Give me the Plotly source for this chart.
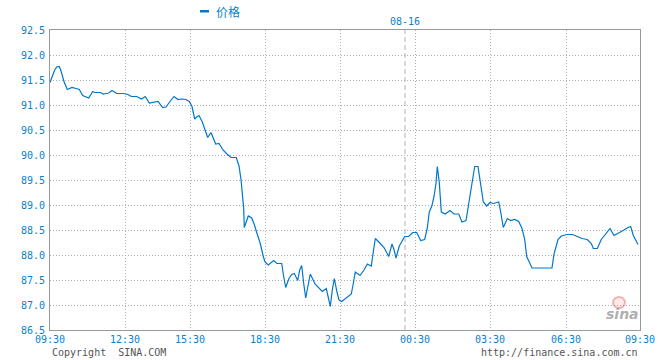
import plotly.graph_objects as go

# x positions are time-slot indices along the session (0 = 09:30, 590 = 09:30 next day)
slot = [0, 4.7, 6.7, 9.3, 10.7, 14, 17.3, 19.3, 22, 26, 29.3, 32.7, 36, 38.7, 42.7, 44.7,
        50.7, 53.3, 56, 58.7, 62, 66.7, 73.3, 78, 81.3, 86.7, 91.3, 95.3, 99.3, 104, 108,
        112.7, 116, 120, 124, 128, 131.3, 136, 139.3, 142, 144.7, 146.7, 149, 152.3, 155,
        157.7, 161, 163, 165.7, 169, 173, 177, 181, 186.3, 189, 191, 192.3, 193.7, 194.3,
        195.7, 198.3, 201.7, 204.3, 207, 210.3, 213, 215, 218.3, 223.7, 227, 231.7, 233.7,
        235.7, 239, 241.7, 244.3, 247.7, 249.7, 251.7, 253.7, 255.7, 257.7, 260.3, 265,
        272.3, 276.3, 278.3, 280.3, 282.3, 284.3, 287, 289, 291.7, 295, 296.7, 301.3, 303.3,
        305.3, 310, 314, 317.3, 321.3, 322.7, 325.3, 329.3, 334, 338.7, 342, 344, 346,
        349.3, 354.7, 358.7, 362.7, 366.7, 370.7, 374.7, 377.3, 379.3, 382, 384, 386, 387.3,
        389.3, 391.3, 395.3, 400, 404, 408.7, 412, 416, 418.7, 422, 424.7, 428, 431.3, 433.3,
        436.7, 440, 443.3, 448.7, 450.7, 453.3, 457.3, 460.7, 464.7, 468.7, 472, 474.7,
        476.7, 482, 502, 504, 508, 511.3, 516.7, 522.7, 527.3, 532, 537.3, 541.3, 543.3,
        547.3, 551.3, 555.3, 560, 564, 568.7, 574, 578, 580.7, 583.3, 588]
price = [91.45, 91.70, 91.76, 91.77, 91.70, 91.47, 91.31, 91.33, 91.35, 91.33, 91.31, 91.19,
         91.16, 91.14, 91.27, 91.25, 91.25, 91.22, 91.23, 91.24, 91.29, 91.23, 91.23, 91.21,
         91.17, 91.17, 91.12, 91.17, 91.04, 91.06, 91.07, 90.95, 90.96, 91.07, 91.17, 91.11,
         91.12, 91.11, 91.07, 90.97, 90.72, 90.76, 90.79, 90.66, 90.50, 90.35, 90.45, 90.34,
         90.22, 90.23, 90.10, 90.02, 89.95, 89.95, 89.78, 89.51, 89.23, 88.93, 88.55, 88.63,
         88.78, 88.74, 88.61, 88.43, 88.23, 87.99, 87.86, 87.80, 87.89, 87.83, 87.83, 87.57,
         87.35, 87.53, 87.61, 87.63, 87.49, 87.70, 87.79, 87.43, 87.14, 87.35, 87.62, 87.42,
         87.27, 87.33, 87.14, 86.97, 87.30, 87.53, 87.26, 87.10, 87.07, 87.12, 87.15, 87.22,
         87.43, 87.66, 87.59, 87.70, 87.82, 87.78, 87.98, 88.33, 88.25, 88.15, 87.97, 88.22,
         88.11, 87.94, 88.18, 88.37, 88.37, 88.45, 88.45, 88.29, 88.31, 88.54, 88.86, 88.99,
         89.17, 89.43, 89.77, 89.45, 88.86, 88.82, 88.89, 88.82, 88.82, 88.66, 88.69, 89.03,
         89.50, 89.77, 89.77, 89.31, 89.06, 88.98, 89.05, 89.03, 89.06, 88.86, 88.55, 88.73,
         88.69, 88.71, 88.67, 88.53, 88.31, 87.97, 87.74, 87.74, 88.02, 88.31, 88.38, 88.41,
         88.41, 88.37, 88.33, 88.31, 88.23, 88.13, 88.13, 88.31, 88.41, 88.53, 88.39, 88.45,
         88.50, 88.55, 88.57, 88.39, 88.21]

tick_pos = [0, 75, 140, 215, 290, 365, 440, 516, 590]
tick_text = ["09:30", "12:30", "15:30", "18:30", "21:30", "00:30", "03:30", "06:30", "09:30"]
y_ticks = [86.5, 87.0, 87.5, 88.0, 88.5, 89.0, 89.5, 90.0, 90.5, 91.0, 91.5, 92.0, 92.5]
day_pos = 355
day_label = "08-16"
series_name = "价格"

BLUE = "#0a7fd0"
LINE = "#0077cc"
MONO = "DejaVu Sans Mono"

fig = go.Figure()
fig.add_trace(go.Scatter(x=slot, y=price, mode="lines", name=series_name,
                         line=dict(color=LINE, width=1.2), showlegend=False))

fig.update_layout(
    width=660, height=360,
    margin=dict(l=50, r=20, t=30, b=30, autoexpand=False),
    paper_bgcolor="white", plot_bgcolor="white",
    xaxis=dict(range=[0, 590], tickvals=tick_pos, ticktext=tick_text, automargin=False,
               showgrid=True, gridcolor="#b0b0b0", griddash="1px,2px", gridwidth=1,
               showline=True, linecolor="#999999", linewidth=1, mirror=True,
               zeroline=False, ticks="", ticklabelstandoff=0,
               tickfont=dict(family=MONO, size=10, color=BLUE)),
    yaxis=dict(range=[86.5, 92.5], tickvals=y_ticks, tickformat=".1f", automargin=False,
               showgrid=True, gridcolor="#b0b0b0", griddash="1px,2px", gridwidth=1,
               showline=True, linecolor="#999999", linewidth=1, mirror=True,
               zeroline=False, ticks="", ticklabelstandoff=2,
               tickfont=dict(family=MONO, size=10, color=BLUE)),
    font=dict(family=MONO),
)

# day divider
fig.add_shape(type="line", xref="x", yref="paper", x0=day_pos, x1=day_pos, y0=0, y1=1,
              line=dict(color="#b0b0b0", width=1, dash="5px,3px"))
fig.add_annotation(x=day_pos, y=1.027, xref="x", yref="paper", text=day_label,
                   showarrow=False, font=dict(family=MONO, size=10, color=BLUE),
                   xanchor="center", yanchor="middle")

# legend
fig.add_shape(type="rect", xref="paper", yref="paper",
              x0=(200 - 50) / 590, x1=(209 - 50) / 590,
              y0=(330 - 12.5) / 300, y1=(330 - 10) / 300,
              fillcolor=LINE, line=dict(width=0))
fig.add_annotation(x=(214 - 50) / 590, y=(330 - 11.5) / 300, xref="paper", yref="paper",
                   text=series_name, showarrow=False, xanchor="left", yanchor="middle",
                   font=dict(family="Noto Sans CJK SC", size=12, color=BLUE))

# footer texts
fig.add_annotation(x=0, y=(330 - 352) / 300, xref="paper", yref="paper",
                   text="Copyright  SINA.COM", showarrow=False, xanchor="left", yanchor="middle",
                   font=dict(family=MONO, size=10, color="#555555"))
fig.add_annotation(x=1, y=(330 - 352) / 300, xref="paper", yref="paper",
                   text="http://finance.sina.com.cn", showarrow=False, xanchor="right",
                   yanchor="middle", font=dict(family=MONO, size=10, color="#555555"))

# watermark logo
fig.add_shape(type="circle", xref="paper", yref="paper",
              x0=(613 - 50) / 590, x1=(625 - 50) / 590,
              y0=(330 - 308) / 300, y1=(330 - 297) / 300,
              line=dict(color="rgba(230,80,80,0.4)", width=2), fillcolor="rgba(240,150,150,0.2)")
fig.add_annotation(x=(622 - 50) / 590, y=(330 - 314) / 300, xref="paper", yref="paper",
                   text="<b><i>sina</i></b>", showarrow=False, xanchor="center", yanchor="middle",
                   font=dict(family="DejaVu Sans", size=14, color="rgba(140,140,140,0.7)"))

fig.write_html("out.html", config={"displayModeBar": False},
               post_script="document.body.style.margin='0px';document.body.style.padding='0px';")
